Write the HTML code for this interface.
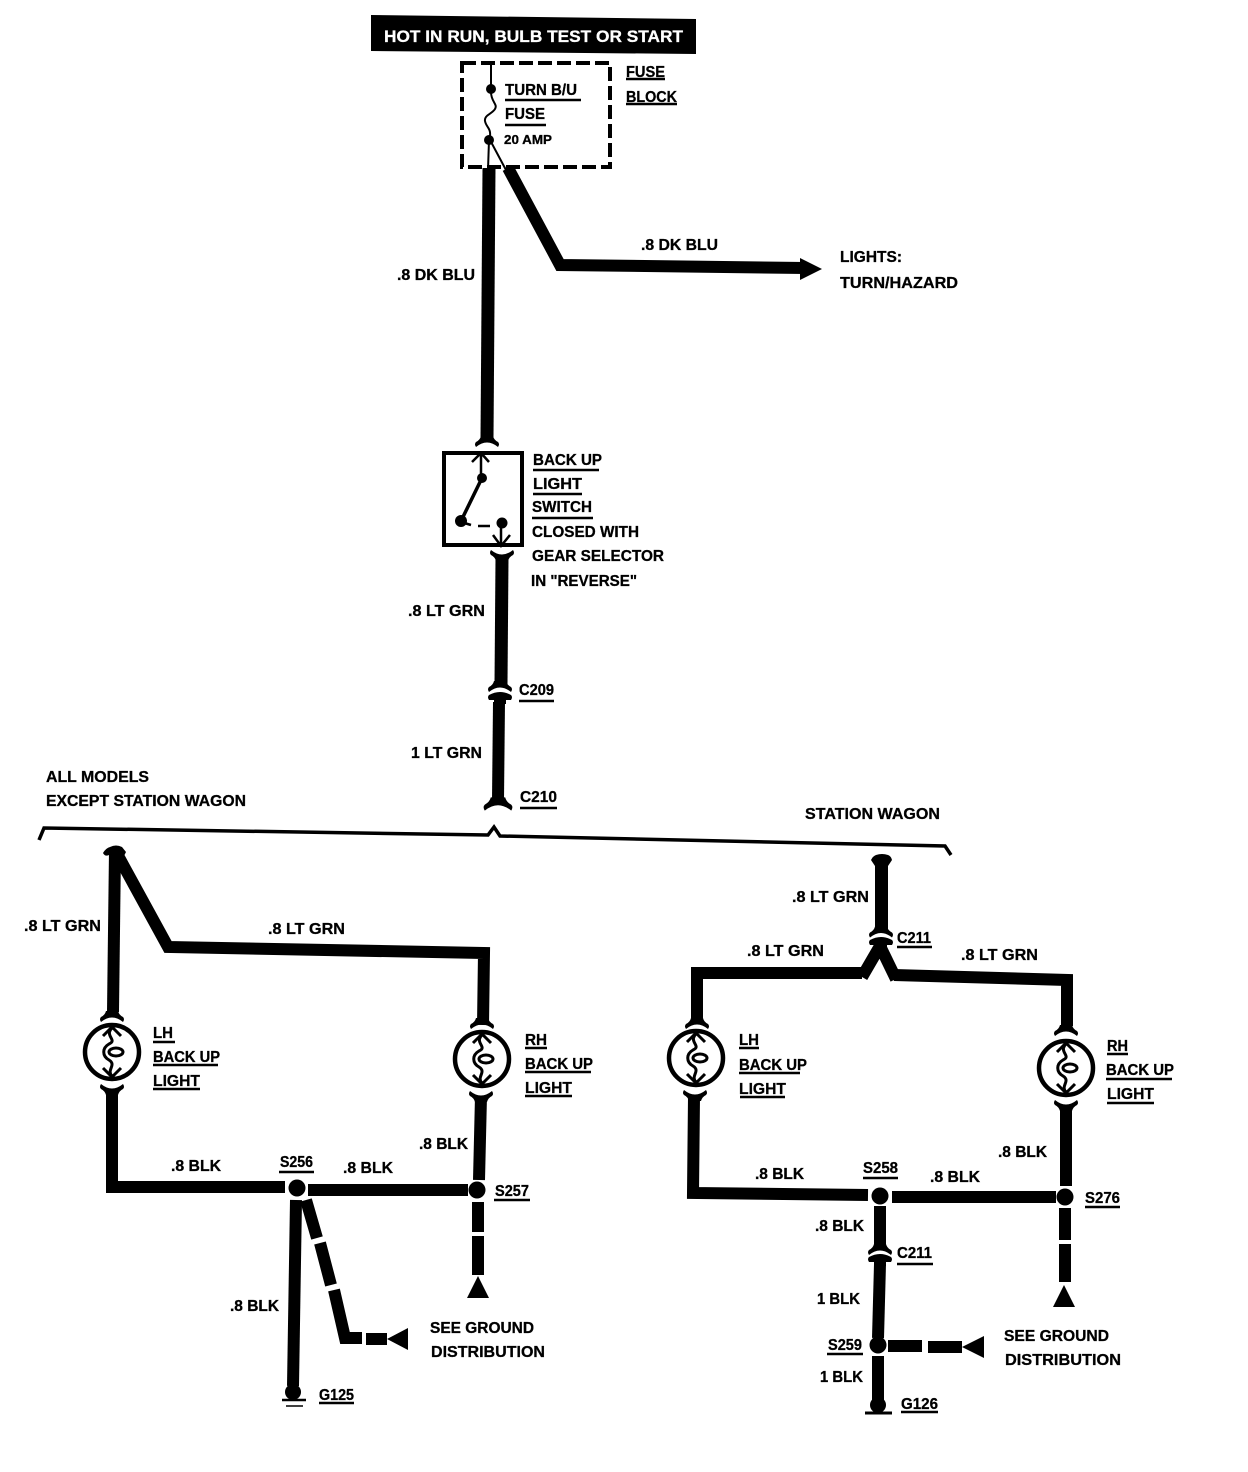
<!DOCTYPE html>
<html><head><meta charset="utf-8"><style>
html,body{margin:0;padding:0;background:#fff}
svg{display:block}
text{font-family:"Liberation Sans",sans-serif;font-weight:bold;font-size:16px;fill:#000;stroke:#000;stroke-width:.3}
.w{fill:none;stroke:#000;stroke-width:12;stroke-linejoin:miter}
.u{stroke:#000;stroke-width:2.5}
</style></head><body>
<svg width="1248" height="1472" viewBox="0 0 1248 1472" xmlns="http://www.w3.org/2000/svg">
<defs>
<path id="capT" d="M-6,-8 L6,-8 Q7,-4 11,-2 Q13,0 11,3 Q0,-6 -11,3 Q-13,0 -11,-2 Q-7,-4 -6,-8Z"/>
<path id="capB" d="M-6,8 L6,8 Q7,4 11,2 Q13,0 11,-3 Q0,6 -11,-3 Q-13,0 -11,2 Q-7,4 -6,8Z"/>
<path id="dome" d="M-6,10 L6,10 L6,6 L11,6 Q13,3 11,1 Q0,-5 -11,1 Q-13,3 -11,6 L-6,6Z"/>
<g id="bulb" fill="none" stroke="#000">
<circle r="27" stroke-width="4.5"/>
<path stroke-width="3" d="M-9,-16 L0,-25 L9,-16 M-9,16 L0,25 L9,16"/>
<path stroke-width="3" d="M0,-24 C-8,-16 6,-12 -3,-8 C-10,-4 -10,4 -3,8 C5,13 -6,18 0,24"/>
<ellipse cx="4" cy="0" rx="7" ry="4" stroke-width="3"/>
</g>
</defs>
<rect width="1248" height="1472" fill="#fff"/>

<!-- banner -->
<polygon points="371,15 696,19 696,54 371,51" fill="#000"/>
<text x="384" y="42" textLength="299" lengthAdjust="spacingAndGlyphs" style="fill:#fff;stroke:#fff;font-size:17px">HOT IN RUN, BULB TEST OR START</text>

<!-- fuse block -->
<rect x="462" y="63" width="148" height="104" fill="none" stroke="#000" stroke-width="4" stroke-dasharray="14 5"/>
<path d="M491,62 V88 M491,92 C491,102 498,104 495,109 C492,114 484,115 485,121 C486,127 491,128 490,136 M489,140 L488,170 M490,140 L506,170" fill="none" stroke="#000" stroke-width="2"/>
<circle cx="491" cy="89" r="5"/><circle cx="489" cy="140" r="5"/>
<text x="626" y="77" textLength="39" lengthAdjust="spacingAndGlyphs">FUSE</text><line class="u" x1="626" y1="79" x2="665" y2="79"/>
<text x="626" y="102" textLength="51" lengthAdjust="spacingAndGlyphs">BLOCK</text><line class="u" x1="626" y1="104" x2="677" y2="104"/>
<text x="505" y="95" textLength="72" lengthAdjust="spacingAndGlyphs">TURN B/U</text><line class="u" x1="505" y1="100" x2="581" y2="100"/>
<text x="505" y="119" textLength="40" lengthAdjust="spacingAndGlyphs">FUSE</text><line class="u" x1="505" y1="125" x2="546" y2="125"/>
<text x="504" y="144" textLength="48" lengthAdjust="spacingAndGlyphs" style="font-size:13px">20 AMP</text>

<!-- top wires -->
<path class="w" style="stroke-width:13" d="M489,168 L487,438"/>
<path class="w" d="M508,168 L560,265 L805,268"/>
<polygon points="800,258 822,269 800,280"/>
<text x="641" y="250" textLength="77" lengthAdjust="spacingAndGlyphs">.8 DK BLU</text>
<text x="840" y="262" textLength="62" lengthAdjust="spacingAndGlyphs">LIGHTS:</text>
<text x="840" y="288" textLength="118" lengthAdjust="spacingAndGlyphs">TURN/HAZARD</text>
<text x="397" y="280" textLength="78" lengthAdjust="spacingAndGlyphs">.8 DK BLU</text>

<!-- switch -->
<use href="#capT" x="487" y="444"/>
<rect x="444" y="453" width="78" height="92" fill="none" stroke="#000" stroke-width="4"/>
<path d="M472,462 L481,453 L489,462 M481,453 V478" fill="none" stroke="#000" stroke-width="2.5"/>
<circle cx="482" cy="478" r="5"/>
<path d="M481,480 L461,521" stroke="#000" stroke-width="3.5"/>
<circle cx="461" cy="521" r="6"/>
<path d="M461,522 L471,525 M478,526 L490,526" stroke="#000" stroke-width="2.5"/>
<circle cx="502" cy="523" r="5.5"/>
<path d="M493,535 L501,546 L510,535 M501,524 V546" fill="none" stroke="#000" stroke-width="2.5"/>
<use href="#capB" x="502" y="553"/>
<text x="533" y="465" textLength="69" lengthAdjust="spacingAndGlyphs">BACK UP</text><line class="u" x1="533" y1="470" x2="599" y2="470"/>
<text x="533" y="489" textLength="49" lengthAdjust="spacingAndGlyphs">LIGHT</text><line class="u" x1="533" y1="494" x2="582" y2="494"/>
<text x="532" y="512" textLength="60" lengthAdjust="spacingAndGlyphs">SWITCH</text><line class="u" x1="532" y1="518" x2="593" y2="518"/>
<text x="532" y="537" textLength="107" lengthAdjust="spacingAndGlyphs">CLOSED WITH</text>
<text x="532" y="561" textLength="132" lengthAdjust="spacingAndGlyphs">GEAR SELECTOR</text>
<text x="531" y="586" textLength="106" lengthAdjust="spacingAndGlyphs">IN "REVERSE"</text>

<path class="w" style="stroke-width:13" d="M502,558 L501,684"/>
<use href="#capT" x="500" y="689"/><use href="#dome" x="500" y="694"/>
<path class="w" d="M499,702 L498,800"/>
<use href="#capT" x="498" y="807" transform="translate(498 807) scale(1.2) translate(-498 -807)"/>
<text x="408" y="616" textLength="77" lengthAdjust="spacingAndGlyphs">.8 LT GRN</text>
<text x="519" y="695" textLength="35" lengthAdjust="spacingAndGlyphs">C209</text><line class="u" x1="519" y1="701" x2="554" y2="701"/>
<text x="411" y="758" textLength="71" lengthAdjust="spacingAndGlyphs">1 LT GRN</text>
<text x="520" y="802" textLength="37" lengthAdjust="spacingAndGlyphs">C210</text><line class="u" x1="520" y1="808" x2="557" y2="808"/>
<text x="46" y="782" textLength="103" lengthAdjust="spacingAndGlyphs">ALL MODELS</text>
<text x="46" y="806" textLength="200" lengthAdjust="spacingAndGlyphs">EXCEPT STATION WAGON</text>
<text x="805" y="819" textLength="135" lengthAdjust="spacingAndGlyphs">STATION WAGON</text>

<!-- bracket -->
<path d="M39,840 L44,828 L488,835 L494,827 L500,836 L945,846 L951,855" fill="none" stroke="#000" stroke-width="3.5"/>

<!-- left branch -->
<path d="M103,853 Q106,848 110,847 Q116,844 122,847 L126,852 L121,862 H109 V855 Q105,857 103,853Z"/>
<path class="w" d="M115,850 L113,1012"/>
<path class="w" d="M116,852 L168,947 L484,953 L483,1025"/>
<use href="#capT" x="112" y="1019"/>
<use href="#bulb" x="112" y="1052"/>
<use href="#capB" x="112" y="1087"/>
<use href="#capT" x="482" y="1026"/>
<use href="#bulb" x="482" y="1059"/>
<use href="#capB" x="481" y="1094"/>
<path class="w" d="M112,1090 L112,1187 L285,1187"/>
<path class="w" d="M308,1190 L468,1190"/>
<path class="w" d="M481,1096 L479,1180"/>
<circle cx="297" cy="1188" r="8.5"/><circle cx="477" cy="1190" r="8.5"/>
<path class="w" d="M478,1202 V1232 M478,1236 V1275"/>
<polygon points="478,1276 467,1298 489,1298"/>
<path class="w" d="M296,1200 L293,1386"/>
<path class="w" d="M306,1200 L317,1238 M320,1243 L331,1285"/>
<path class="w" d="M334,1290 L345,1338 L362,1338 M366,1339 H387"/>
<polygon points="387,1339 408,1328 408,1350"/>
<circle cx="293" cy="1392" r="8"/>
<path d="M282,1400 H306" stroke="#000" stroke-width="2.5"/><path d="M286,1406 H303" stroke="#000" stroke-width="1.5"/>

<text x="24" y="931" textLength="77" lengthAdjust="spacingAndGlyphs">.8 LT GRN</text>
<text x="268" y="934" textLength="77" lengthAdjust="spacingAndGlyphs">.8 LT GRN</text>
<text x="153" y="1038" textLength="20" lengthAdjust="spacingAndGlyphs">LH</text><line class="u" x1="153" y1="1042" x2="175" y2="1042"/>
<text x="153" y="1062" textLength="67" lengthAdjust="spacingAndGlyphs">BACK UP</text><line class="u" x1="153" y1="1065" x2="218" y2="1065"/>
<text x="153" y="1086" textLength="47" lengthAdjust="spacingAndGlyphs">LIGHT</text><line class="u" x1="153" y1="1089" x2="200" y2="1089"/>
<text x="525" y="1045" textLength="22" lengthAdjust="spacingAndGlyphs">RH</text><line class="u" x1="525" y1="1048" x2="547" y2="1048"/>
<text x="525" y="1069" textLength="68" lengthAdjust="spacingAndGlyphs">BACK UP</text><line class="u" x1="525" y1="1072" x2="591" y2="1072"/>
<text x="525" y="1093" textLength="47" lengthAdjust="spacingAndGlyphs">LIGHT</text><line class="u" x1="525" y1="1096" x2="572" y2="1096"/>
<text x="171" y="1171" textLength="50" lengthAdjust="spacingAndGlyphs">.8 BLK</text>
<text x="280" y="1167" textLength="33" lengthAdjust="spacingAndGlyphs">S256</text><line class="u" x1="279" y1="1172" x2="314" y2="1172"/>
<text x="343" y="1173" textLength="50" lengthAdjust="spacingAndGlyphs">.8 BLK</text>
<text x="419" y="1149" textLength="49" lengthAdjust="spacingAndGlyphs">.8 BLK</text>
<text x="495" y="1196" textLength="34" lengthAdjust="spacingAndGlyphs">S257</text><line class="u" x1="494" y1="1200" x2="530" y2="1200"/>
<text x="230" y="1311" textLength="49" lengthAdjust="spacingAndGlyphs">.8 BLK</text>
<text x="319" y="1400" textLength="35" lengthAdjust="spacingAndGlyphs">G125</text><line class="u" x1="319" y1="1403" x2="354" y2="1403"/>
<text x="430" y="1333" textLength="104" lengthAdjust="spacingAndGlyphs">SEE GROUND</text>
<text x="431" y="1357" textLength="114" lengthAdjust="spacingAndGlyphs">DISTRIBUTION</text>

<!-- right branch -->
<path d="M871,860 Q873,856 876,855 Q882,853 888,855 Q891,856 892,860 L888,866 H875Z"/>
<path class="w" style="stroke-width:13" d="M881.5,860 L881.5,930"/>
<use href="#capT" x="881" y="934.5"/>
<path class="w" d="M697,1018 L697,973 L862,973"/>
<path class="w" d="M894,975 L1067,980 L1067,1026"/>
<path class="w" style="stroke-linejoin:bevel" d="M862,977 L880,946 L896,979"/>
<use href="#dome" x="881" y="939"/>
<use href="#capT" x="697" y="1026"/>
<use href="#bulb" x="696" y="1058"/>
<use href="#capB" x="695" y="1093"/>
<use href="#capT" x="1066" y="1033"/>
<use href="#bulb" x="1066" y="1068"/>
<use href="#capB" x="1066" y="1103"/>
<path class="w" d="M694,1097 L693,1193 L868,1195"/>
<path class="w" d="M892,1197 L1056,1197"/>
<path class="w" d="M1066,1106 L1066,1186"/>
<circle cx="880" cy="1196" r="8.5"/><circle cx="1065" cy="1197" r="8.5"/>
<path class="w" d="M1065,1208 V1240 M1065,1244 V1282"/>
<polygon points="1064,1285 1053,1307 1075,1307"/>
<path class="w" d="M880,1206 L880,1246"/>
<use href="#capT" x="880" y="1252"/><use href="#dome" x="880" y="1256"/>
<path class="w" d="M880,1264 L878,1338"/>
<circle cx="878" cy="1345" r="8.5"/>
<path class="w" d="M888,1346 H922 M928,1347 H962"/>
<polygon points="962,1347 984,1336 984,1358"/>
<path class="w" d="M878,1356 V1400"/>
<circle cx="878" cy="1405" r="8"/>
<path d="M865,1413 H892" stroke="#000" stroke-width="3"/>

<text x="792" y="902" textLength="77" lengthAdjust="spacingAndGlyphs">.8 LT GRN</text>
<text x="897" y="943" textLength="34" lengthAdjust="spacingAndGlyphs">C211</text><line class="u" x1="897" y1="947" x2="932" y2="947"/>
<text x="747" y="956" textLength="77" lengthAdjust="spacingAndGlyphs">.8 LT GRN</text>
<text x="961" y="960" textLength="77" lengthAdjust="spacingAndGlyphs">.8 LT GRN</text>
<text x="739" y="1045" textLength="20" lengthAdjust="spacingAndGlyphs">LH</text><line class="u" x1="739" y1="1048" x2="759" y2="1048"/>
<text x="739" y="1070" textLength="68" lengthAdjust="spacingAndGlyphs">BACK UP</text><line class="u" x1="739" y1="1073" x2="800" y2="1073"/>
<text x="739" y="1094" textLength="47" lengthAdjust="spacingAndGlyphs">LIGHT</text><line class="u" x1="740" y1="1097" x2="785" y2="1097"/>
<text x="1107" y="1051" textLength="21" lengthAdjust="spacingAndGlyphs">RH</text><line class="u" x1="1107" y1="1054" x2="1128" y2="1054"/>
<text x="1106" y="1075" textLength="68" lengthAdjust="spacingAndGlyphs">BACK UP</text><line class="u" x1="1106" y1="1079" x2="1172" y2="1079"/>
<text x="1107" y="1099" textLength="47" lengthAdjust="spacingAndGlyphs">LIGHT</text><line class="u" x1="1107" y1="1103" x2="1154" y2="1103"/>
<text x="755" y="1179" textLength="49" lengthAdjust="spacingAndGlyphs">.8 BLK</text>
<text x="863" y="1173" textLength="35" lengthAdjust="spacingAndGlyphs">S258</text><line class="u" x1="863" y1="1178" x2="898" y2="1178"/>
<text x="930" y="1182" textLength="50" lengthAdjust="spacingAndGlyphs">.8 BLK</text>
<text x="998" y="1157" textLength="49" lengthAdjust="spacingAndGlyphs">.8 BLK</text>
<text x="1085" y="1203" textLength="35" lengthAdjust="spacingAndGlyphs">S276</text><line class="u" x1="1085" y1="1207" x2="1120" y2="1207"/>
<text x="815" y="1231" textLength="49" lengthAdjust="spacingAndGlyphs">.8 BLK</text>
<text x="897" y="1258" textLength="35" lengthAdjust="spacingAndGlyphs">C211</text><line class="u" x1="897" y1="1264" x2="933" y2="1264"/>
<text x="817" y="1304" textLength="43" lengthAdjust="spacingAndGlyphs">1 BLK</text>
<text x="828" y="1350" textLength="34" lengthAdjust="spacingAndGlyphs">S259</text><line class="u" x1="827" y1="1354" x2="863" y2="1354"/>
<text x="820" y="1382" textLength="43" lengthAdjust="spacingAndGlyphs">1 BLK</text>
<text x="901" y="1409" textLength="37" lengthAdjust="spacingAndGlyphs">G126</text><line class="u" x1="901" y1="1412" x2="938" y2="1412"/>
<text x="1004" y="1341" textLength="105" lengthAdjust="spacingAndGlyphs">SEE GROUND</text>
<text x="1005" y="1365" textLength="116" lengthAdjust="spacingAndGlyphs">DISTRIBUTION</text>
</svg>
</body></html>
